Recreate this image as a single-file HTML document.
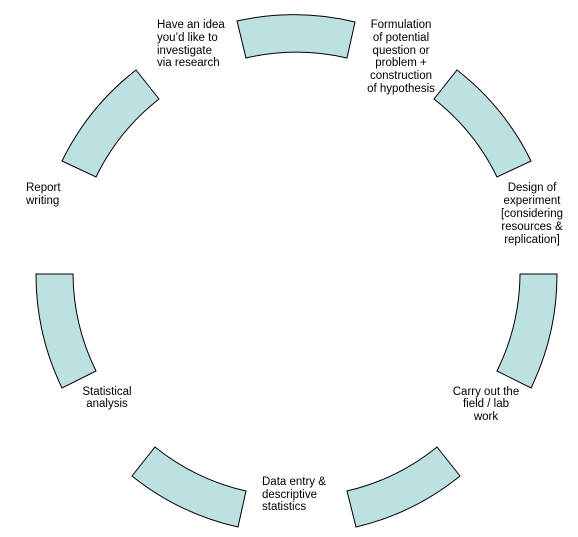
<!DOCTYPE html>
<html><head><meta charset="utf-8"><style>
html,body{margin:0;padding:0;background:#fff;}
svg{display:block;}
text{font-family:"Liberation Sans",Arial,sans-serif;font-size:11.5px;fill:#000;dominant-baseline:central;}
</style></head><body>
<svg width="578" height="537" viewBox="0 0 578 537" xmlns="http://www.w3.org/2000/svg">
<g fill="#bde0e1" stroke="#000" stroke-width="1">
<path d="M237,21 A260,260 0 0 1 355,22 L347,58 A223,223 0 0 0 246,58 Z"/>
<path d="M136,70 L159,99 A223,223 0 0 0 96,177 L62,161 A260,260 0 0 1 136,70 Z"/>
<path d="M457,70 A260,260 0 0 1 531,161 L497,177 A223,223 0 0 0 434,99 Z"/>
<path d="M36,274 L73,274 A223,223 0 0 0 96,371 L62,388 A260,260 0 0 1 36,274 Z"/>
<path d="M557,274 A260,260 0 0 1 531,388 L497,371 A223,223 0 0 0 520,274 Z"/>
<path d="M155,447 A223,223 0 0 0 246,491 L238,527 A260,260 0 0 1 132,476 Z"/>
<path d="M437,447 L460,476 A260,260 0 0 1 356,527 L347,491 A223,223 0 0 0 437,447 Z"/>
</g>
<text x="157" y="25">Have an idea</text>
<text x="157" y="38">you’d like to</text>
<text x="157" y="51">investigate</text>
<text x="157" y="63">via research</text>
<g text-anchor="middle">
<text x="401" y="25">Formulation</text>
<text x="401" y="38">of potential</text>
<text x="401" y="51">question or</text>
<text x="401" y="63">problem +</text>
<text x="401" y="76">construction</text>
<text x="401" y="89">of hypothesis</text>
<text x="532" y="188">Design of</text>
<text x="532" y="201">experiment</text>
<text x="532" y="214">[considering</text>
<text x="532" y="227">resources &amp;</text>
<text x="532" y="240">replication]</text>
<text x="107" y="392">Statistical</text>
<text x="107" y="404">analysis</text>
<text x="486" y="392">Carry out the</text>
<text x="486" y="404">field / lab</text>
<text x="486" y="417">work</text>
</g>
<text x="26" y="188">Report</text>
<text x="26" y="201">writing</text>
<text x="262" y="482">Data entry &amp;</text>
<text x="262" y="495">descriptive</text>
<text x="262" y="507">statistics</text>
</svg>
</body></html>
